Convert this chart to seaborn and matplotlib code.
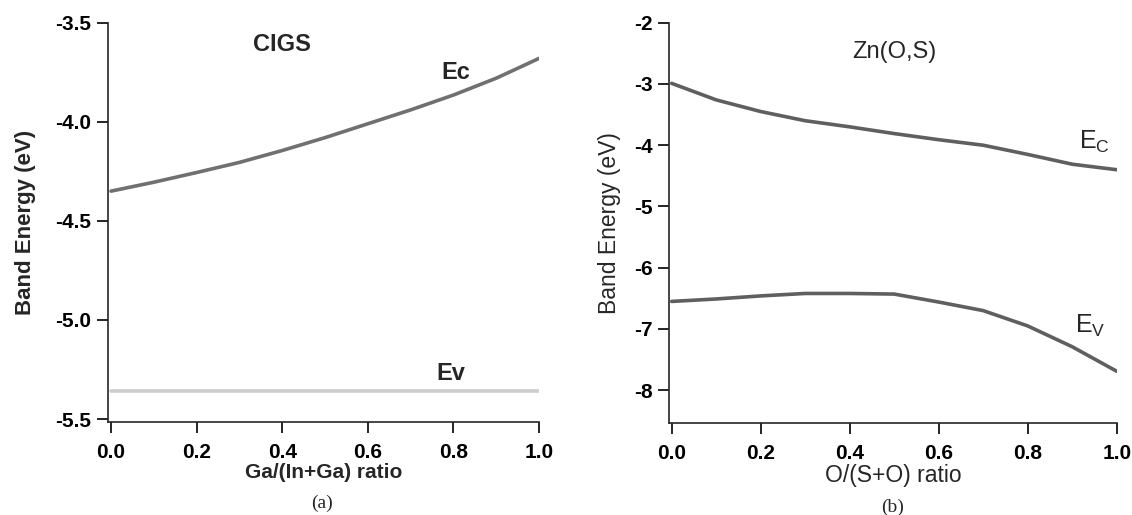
import numpy as np
import pandas as pd
import matplotlib
matplotlib.use("Agg")
import matplotlib.pyplot as plt
import seaborn as sns

# CIGS band edges vs Ga/(In+Ga)
cigs_x = [0.0, 0.1, 0.2, 0.3, 0.4, 0.5, 0.6, 0.7, 0.8, 0.9, 1.0]
cigs_ec = [-4.35, -4.305, -4.256, -4.205, -4.145, -4.08, -4.01, -3.94, -3.865, -3.78, -3.68]
cigs_ev_x = [0.0, 1.0]
cigs_ev = [-5.36, -5.36]

# Zn(O,S) band edges vs O/(S+O)
zos_x = [0.0, 0.1, 0.2, 0.3, 0.4, 0.5, 0.6, 0.7, 0.8, 0.9, 1.0]
zos_ec = [-2.99, -3.26, -3.45, -3.60, -3.70, -3.81, -3.91, -4.00, -4.15, -4.31, -4.40]
zos_ev = [-6.55, -6.51, -6.46, -6.42, -6.42, -6.43, -6.56, -6.70, -6.95, -7.29, -7.69]

cigs_yticks = [-3.5, -4.0, -4.5, -5.0, -5.5]
zos_yticks = [-2, -3, -4, -5, -6, -7, -8]
xticks = [0.0, 0.2, 0.4, 0.6, 0.8, 1.0]

sns.set_style("ticks")
plt.rcParams["font.family"] = ["Liberation Sans", "DejaVu Sans"]
plt.rcParams["axes.unicode_minus"] = False
plt.rcParams["mathtext.fontset"] = "custom"
plt.rcParams["mathtext.rm"] = "Liberation Sans"

fig = plt.figure(figsize=(11.32, 5.15), dpi=100)
ax1 = fig.add_axes([0.0954, 0.1806, 0.3808, 0.7753])
ax2 = fig.add_axes([0.5910, 0.1792, 0.3955, 0.7767])

# ---- (a) CIGS ----
sns.lineplot(x=cigs_x, y=cigs_ec, ax=ax1, color="#707070", lw=2.6)
sns.lineplot(x=cigs_ev_x, y=cigs_ev, ax=ax1, color="#cdcdcd", lw=2.6)
ax1.set_xlim(-0.007, 1.0)
ax1.set_ylim(-5.515, -3.5)
ax1.set_yticks(cigs_yticks)
ax1.set_yticklabels([f"{v:.1f}" for v in cigs_yticks])
ax1.set_xticks(xticks)
ax1.set_xticklabels([f"{v:.1f}" for v in xticks])
ax1.set_xlabel("Ga/(In+Ga) ratio", fontsize=15, fontweight="bold", labelpad=1)
ax1.set_ylabel("Band Energy (eV)", fontsize=16, fontweight="bold", labelpad=14)
for lab in ax1.get_xticklabels() + ax1.get_yticklabels():
    lab.set_fontweight("bold")
ax1.text(0.40, -3.61, "CIGS", fontsize=17, fontweight="bold", ha="center", va="center")
ax1.text(0.805, -3.75, "Ec", fontsize=17, fontweight="bold", ha="center", va="center")
ax1.text(0.795, -5.27, "Ev", fontsize=17, fontweight="bold", ha="center", va="center")
fig.text(322 / 1132, 1 - 503 / 515, "(a)", fontsize=14, family="Liberation Serif",
         ha="center", va="center")

# ---- (b) Zn(O,S) ----
sns.lineplot(x=zos_x, y=zos_ec, ax=ax2, color="#5f5f5f", lw=2.6)
sns.lineplot(x=zos_x, y=zos_ev, ax=ax2, color="#5f5f5f", lw=2.6)
ax2.set_xlim(-0.006, 1.0)
ax2.set_ylim(-8.53, -2)
ax2.set_yticks(zos_yticks)
ax2.set_yticklabels([str(v) for v in zos_yticks])
ax2.set_xticks(xticks)
ax2.set_xticklabels([f"{v:.1f}" for v in xticks])
ax2.set_xlabel("O/(S+O) ratio", fontsize=16.5, labelpad=1)
ax2.set_ylabel("Band Energy (eV)", fontsize=16.5, labelpad=9)
for lab in ax2.get_xticklabels() + ax2.get_yticklabels():
    lab.set_fontweight("bold")
ax2.text(0.50, -2.47, "Zn(O,S)", fontsize=17, ha="center", va="center")
ax2.text(0.95, -3.95, r"$\mathregular{E_C}$", fontsize=18, ha="center", va="center")
ax2.text(0.94, -6.95, r"$\mathregular{E_V}$", fontsize=18, ha="center", va="center")
fig.text(893 / 1132, 1 - 507 / 515, "(b)", fontsize=14, family="Liberation Serif",
         ha="center", va="center")

for ax in (ax1, ax2):
    sns.despine(ax=ax)
    ax.spines["left"].set_linewidth(1.2)
    ax.spines["bottom"].set_linewidth(1.2)
    ax.tick_params(direction="out", length=8, width=1.2, labelsize=15, colors="black")
    ax.tick_params(axis="x", pad=7)
    ax.tick_params(axis="y", pad=4)

fig.savefig("out.png", dpi=100)
